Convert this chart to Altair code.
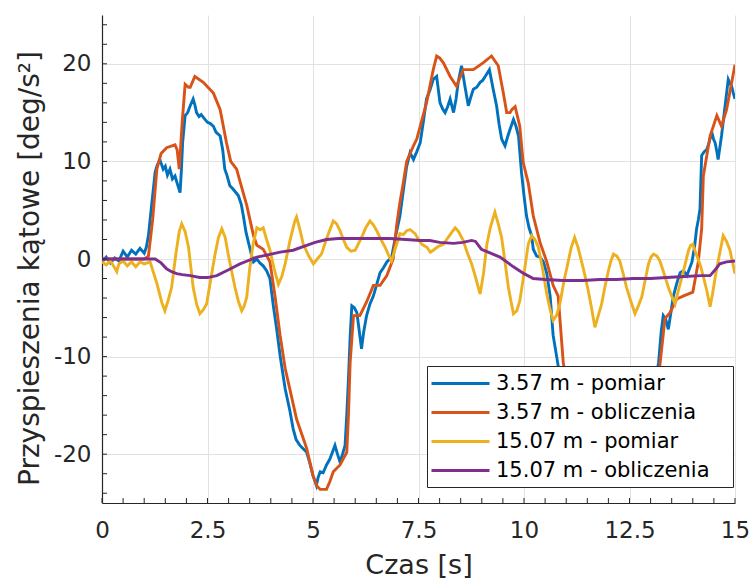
import altair as alt
import pandas as pd

names = ["3.57 m - pomiar", "3.57 m - obliczenia", "15.07 m - pomiar", "15.07 m - obliczenia"]
colors = ["#0072BD", "#D95319", "#EDB120", "#7E2F8E"]

x_tick_values = [0, 2.5, 5, 7.5, 10, 12.5, 15]
y_tick_values = [-20, -10, 0, 10, 20]
x_minor = [i * 0.5 for i in range(31)]
y_minor = [-24 + 2 * i for i in range(25)]

t_blue = [0, 0.1, 0.2, 0.3, 0.4, 0.5, 0.6, 0.7, 0.8, 0.9, 1.0, 1.05, 1.1, 1.2, 1.26, 1.3, 1.37, 1.45, 1.5, 1.55,
          1.61, 1.67, 1.73, 1.8, 1.85, 1.88, 1.91, 1.97, 2.03, 2.09, 2.16, 2.2, 2.24, 2.3, 2.35, 2.44, 2.5, 2.56,
          2.64, 2.7, 2.8, 2.86, 2.91, 2.96, 3.03, 3.1, 3.23, 3.3, 3.35, 3.41, 3.47, 3.55, 3.59, 3.67, 3.74, 3.82,
          3.9, 3.98, 4.06, 4.14, 4.22, 4.34, 4.45, 4.53, 4.6, 4.69, 4.78, 4.85, 4.93, 5.0, 5.08, 5.12, 5.17, 5.24,
          5.32, 5.4, 5.46, 5.52, 5.58, 5.64, 5.7, 5.76, 5.8, 5.84, 5.88, 5.92, 5.98, 6.04, 6.1, 6.15, 6.2, 6.27,
          6.35, 6.43, 6.51, 6.59, 6.67, 6.75, 6.82, 6.87, 6.95, 7.06, 7.14, 7.22, 7.3, 7.38, 7.46, 7.54, 7.62,
          7.69, 7.77, 7.85, 7.93, 8.01, 8.07, 8.13, 8.19, 8.25, 8.33, 8.39, 8.44, 8.52, 8.6, 8.68, 8.74, 8.8,
          8.88, 8.96, 9.02, 9.08, 9.18, 9.27, 9.35, 9.41, 9.47, 9.55, 9.61, 9.67, 9.75, 9.81, 9.87, 9.94, 10.0,
          10.06, 10.12, 10.18, 10.22, 10.3, 10.38, 10.46, 10.54, 10.62, 10.69, 10.77, 10.85, 11.0, 11.2, 11.5,
          11.8, 12.1, 12.4, 12.7, 12.9, 13.05, 13.19, 13.25, 13.3, 13.36, 13.42, 13.48, 13.54, 13.62, 13.7,
          13.78, 13.86, 13.92, 13.98, 14.04, 14.09, 14.13, 14.17, 14.21, 14.27, 14.33, 14.39, 14.45, 14.49,
          14.53, 14.57, 14.6, 14.64, 14.68, 14.76, 14.84, 14.88, 14.92, 14.96, 15.0]
v_blue = [-0.3, 0.2, -0.4, 0.1, -0.2, 0.8, 0.2, 0.9, 0.5, 1.1, 0.6, 1.2, 2.4, 6.5, 8.9, 9.5, 10.2, 9.2, 9.5, 8.6,
          9.2, 8.2, 8.5, 7.5, 6.8, 9.0, 11.9, 14.7, 15.0, 15.7, 16.4, 15.8, 15.0, 14.6, 14.8, 14.3, 14.0, 13.9,
          13.6, 13.0, 12.6, 11.2, 9.2, 8.6, 7.5, 7.2, 6.5, 5.6, 4.4, 2.8, 1.7, 0.3, -0.3, 0.0, -0.4, -0.7,
          -1.2, -2.0, -4.8, -7.2, -9.9, -13.3, -15.5, -17.4, -18.5, -19.1, -19.5, -19.8, -21.0, -22.2, -23.2, -22.4, -21.8, -21.9,
          -21.1, -20.5, -19.8, -19.1, -20.0, -20.8, -20.0, -19.1, -16.0, -12.3, -8.0, -4.8, -5.0, -5.5, -7.5, -9.2, -7.5, -5.8,
          -4.6, -3.8, -2.6, -1.4, -0.9, -0.3, 0.0, 0.3, 2.2, 4.4, 7.0, 9.5, 10.9, 10.2, 11.0, 11.9, 14.2,
          16.4, 17.3, 18.4, 18.7, 16.0, 15.4, 15.0, 15.6, 16.4, 15.0, 16.4, 18.1, 19.8, 17.7, 15.7, 16.6, 17.4,
          17.6, 18.1, 18.3, 18.7, 19.4, 17.4, 15.7, 13.8, 12.3, 11.6, 12.5, 13.3, 14.3, 13.6, 12.6, 8.9, 6.5,
          4.4, 3.2, 2.4, 1.0, 0.3, 0.2, -0.3, -1.5, -3.8, -7.8, -9.9, -12.0, -15.0, -18.0, -20.0,
          -21.0, -20.5, -21.0, -19.0, -17.0, -14.0, -10.6, -7.5, -5.8, -6.2, -7.2, -5.5, -3.8, -2.5, -1.4,
          -1.2, -1.7, -1.0, -0.3, 1.2, 3.1, 4.0, 5.1, 10.6, 11.0, 11.2, 12.0, 13.0, 12.3,
          11.9, 11.0, 10.2, 11.4, 12.6, 15.5, 18.4, 18.0, 17.7, 17.0, 16.4]

t_orange = [0, 0.5, 1.0, 1.1, 1.2, 1.3, 1.4, 1.53, 1.73, 1.78, 1.83, 1.9, 1.97, 2.05, 2.09, 2.2, 2.4, 2.64, 2.8,
            2.95, 3.05, 3.19, 3.3, 3.43, 3.59, 3.67, 3.82, 3.92, 3.98, 4.1, 4.22, 4.34, 4.45, 4.61, 4.85, 5.0,
            5.1, 5.17, 5.32, 5.4, 5.48, 5.64, 5.8, 5.84, 5.88, 5.96, 6.11, 6.27, 6.43, 6.59, 6.75, 6.9, 6.98,
            7.06, 7.14, 7.22, 7.3, 7.38, 7.46, 7.54, 7.69, 7.85, 7.93, 8.0, 8.09, 8.25, 8.4, 8.56, 8.8, 9.03,
            9.23, 9.39, 9.51, 9.59, 9.67, 9.71, 9.79, 9.9, 9.98, 10.1, 10.22, 10.38, 10.54, 10.69, 10.81,
            10.93, 11.05, 11.2, 11.4, 11.7, 12.0, 12.3, 12.6, 12.9, 13.1, 13.22, 13.34, 13.46, 13.62, 13.77,
            14.0, 14.13, 14.21, 14.25, 14.41, 14.57, 14.68, 14.8, 15.0]
v_orange = [0, 0, 0, 0.3, 4.0, 9.2, 10.8, 11.4, 11.7, 11.2, 9.2, 14.0, 17.9, 17.6, 17.6, 18.7, 18.1, 17.0, 15.3,
            11.9, 10.0, 9.2, 7.5, 5.5, 2.4, 1.4, 1.0, 0.2, -0.3, -3.8, -7.8, -11.2, -13.3, -16.4, -19.4, -22.2,
            -23.3, -23.6, -23.6, -22.8, -21.8, -21.1, -19.8, -16.0, -10.6, -5.8, -5.8, -4.4, -2.7, -2.7, -1.7, 0.0, 3.4,
            5.8, 7.8, 10.0, 10.8, 11.6, 12.3, 13.6, 16.0, 19.4, 20.8, 20.6, 20.1, 18.7, 17.7, 19.4, 19.4, 20.1,
            20.8, 19.8, 17.0, 15.0, 15.0, 15.3, 15.6, 13.6, 9.9, 7.8, 4.4, 1.7, -0.3, -2.7, -3.8,
            -10.6, -14.0, -17.0, -19.5, -21.0, -21.5, -21.0, -20.0, -18.0, -14.0, -10.9, -6.1, -5.5, -4.1, -3.8,
            -3.4, -0.3, 3.1, 8.5, 12.6, 14.7, 13.6, 15.3, 19.9]

t_yellow = [0, 0.1, 0.2, 0.3, 0.35, 0.4, 0.5, 0.6, 0.7, 0.8, 0.9, 1.0, 1.14, 1.3, 1.42, 1.49, 1.57, 1.65, 1.75,
            1.83, 1.89, 1.97, 2.05, 2.16, 2.24, 2.32, 2.4, 2.48, 2.58, 2.68, 2.76, 2.84, 2.92, 2.99, 3.07, 3.15,
            3.23, 3.31, 3.37, 3.43, 3.5, 3.58, 3.67, 3.75, 3.82, 3.9, 3.98, 4.08, 4.18, 4.26, 4.34, 4.45, 4.57,
            4.61, 4.69, 4.77, 4.9, 5.01, 5.1, 5.2, 5.34, 5.48, 5.56, 5.64, 5.72, 5.8, 5.9, 6.0, 6.08, 6.15, 6.25,
            6.35, 6.43, 6.51, 6.61, 6.71, 6.78, 6.86, 6.96, 7.06, 7.14, 7.22, 7.3, 7.42, 7.5, 7.58, 7.7, 7.78,
            7.85, 7.97, 8.09, 8.2, 8.3, 8.37, 8.45, 8.56, 8.66, 8.76, 8.86, 8.96, 9.04, 9.12, 9.2, 9.31, 9.39,
            9.47, 9.55, 9.63, 9.69, 9.75, 9.83, 9.9, 10.0, 10.1, 10.18, 10.26, 10.34, 10.44, 10.54, 10.62, 10.69,
            10.77, 10.85, 10.95, 11.05, 11.12, 11.2, 11.28, 11.36, 11.44, 11.52, 11.6, 11.68, 11.76, 11.84,
            11.92, 12.0, 12.06, 12.12, 12.2, 12.27, 12.35, 12.43, 12.53, 12.63, 12.71, 12.79, 12.87, 12.95,
            13.01, 13.07, 13.15, 13.22, 13.32, 13.42, 13.5, 13.58, 13.66, 13.74, 13.82, 13.9, 13.95, 14.0,
            14.08, 14.17, 14.25, 14.33, 14.41, 14.47, 14.53, 14.62, 14.68, 14.72, 14.8, 14.88, 14.95, 15.0]
v_yellow = [-0.3, -0.6, -0.2, -0.9, -1.3, -0.5, -0.2, -0.7, -0.3, -0.8, -0.3, -0.5, -0.3, -2.5, -4.5, -5.3, -4.2,
            -2.9, 0.5, 2.8, 3.6, 2.8, 1.2, -2.9, -4.6, -5.6, -5.2, -4.6, -2.0, 0.5, 2.2, 3.1, 2.2, 0.5, -1.2, -2.9,
            -4.3, -5.3, -4.8, -3.9, -1.0, 1.5, 3.2, 3.0, 3.2, 2.0, 0.9, -1.0, -2.6, -1.8, -0.5, 1.8, 3.9,
            4.3, 3.0, 1.5, 0.3, -0.5, 0.0, 0.5, 2.3, 3.9, 3.6, 2.9, 2.0, 1.2, 0.8, 0.9, 1.6, 2.2, 3.2,
            3.9, 3.5, 2.9, 2.0, 1.2, 0.5, -0.2, 1.2, 2.6, 2.5, 2.9, 3.0, 2.6, 2.0, 1.5, 1.2, 0.7,
            0.9, 1.3, 1.5, 2.2, 2.8, 3.2, 2.8, 1.9, 0.6, -0.5, -2.0, -3.6, -1.5, 1.5, 3.2, 4.8, 3.6,
            2.2, -0.3, -2.9, -4.3, -5.6, -5.3, -4.3, -1.5, 1.5, 2.4, 2.0, 1.2, -1.0, -3.6, -5.2, -6.3,
            -5.8, -4.6, -2.2, -0.2, 1.2, 2.2, 1.2, -0.2, -1.6, -3.2, -5.0, -7.0, -5.8, -4.6,
            -2.8, -1.2, -0.2, 0.5, 0.3, -0.2, -1.5, -2.9, -4.3, -5.6, -4.8, -3.9, -2.2, -0.5,
            0.2, 0.5, 0.3, -0.2, -1.5, -2.9, -3.8, -4.6, -3.2, -1.9, -0.5, 0.9, 1.4, 1.5,
            0.5, -0.5, -1.8, -3.2, -4.9, -3.5, -1.9, 0.2, 1.5, 2.4, 1.8, 0.9, -0.5, -1.5]

t_purple = [0, 0.5, 1.0, 1.26, 1.4, 1.53, 1.65, 1.77, 1.9, 2.09, 2.32, 2.5, 2.72, 3.0, 3.27, 3.5, 3.67, 3.9, 4.22,
            4.53, 4.85, 5.05, 5.32, 5.6, 6.04, 6.5, 6.82, 7.2, 7.54, 7.77, 8.0, 8.33, 8.55, 8.76, 8.85, 8.99,
            9.15, 9.43, 9.75, 10.0, 10.22, 10.5, 10.93, 11.4, 11.8, 12.2, 12.59, 13.0, 13.38, 13.8, 14.2, 14.41,
            14.55, 14.64, 14.8, 15.0]
v_purple = [0, 0, 0, 0, -0.4, -1.0, -1.3, -1.5, -1.6, -1.7, -1.9, -1.9, -1.7, -1.1, -0.5, -0.1, 0.2, 0.4, 0.7,
            0.9, 1.4, 1.7, 2.0, 2.1, 2.1, 2.1, 2.1, 2.0, 1.9, 1.9, 1.7, 1.6, 1.7, 1.9, 1.8, 1.0,
            0.7, 0.2, -0.8, -1.5, -2.0, -2.1, -2.2, -2.2, -2.1, -2.1, -2.0, -2.0, -1.9, -1.8, -1.7, -1.7,
            -1.0, -0.5, -0.3, -0.2]

series_t = [t_blue, t_orange, t_yellow, t_purple]
series_v = [v_blue, v_orange, v_yellow, v_purple]

rows = []
for name, ts, vs in zip(names, series_t, series_v):
    for t, v in zip(ts, vs):
        rows.append({"series": name, "t": t, "v": v})
df = pd.DataFrame(rows)

W, H = 633, 488
FONT = "DejaVu Sans"
INK = "#262626"

x_scale = alt.Scale(domain=[0, 15], nice=False, zero=False)
y_scale = alt.Scale(domain=[-25, 25], nice=False, zero=False)

x_axis = alt.Axis(values=x_tick_values, labelExpr="datum.value + ''", title="Czas [s]",
                  labelPadding=16, titleY=70, titleBaseline="alphabetic", grid=True, ticks=False,
                  labelFont=FONT, labelFontSize=23, labelColor=INK,
                  titleFont=FONT, titleFontSize=27, titleFontWeight="normal", titleColor=INK,
                  domainColor=INK, domainWidth=1.2, gridColor="#e2e2e2", gridWidth=1, labelFlush=False)
y_axis = alt.Axis(values=y_tick_values, labelExpr="datum.value + ''", title="Przyspieszenia kątowe [deg/s²]",
                  labelPadding=11, titleX=-64, titleY=253, titleBaseline="alphabetic", grid=True, ticks=False,
                  labelFont=FONT, labelFontSize=23, labelColor=INK,
                  titleFont=FONT, titleFontSize=28, titleFontWeight="normal", titleColor=INK,
                  domainColor=INK, domainWidth=1.2, gridColor="#e2e2e2", gridWidth=1, labelFlush=False)

X = alt.X("t:Q", scale=x_scale, axis=x_axis)
Y = alt.Y("v:Q", scale=y_scale, axis=y_axis)

color = alt.Color(
    "series:N",
    scale=alt.Scale(domain=names, range=colors),
    legend=alt.Legend(
        title=None, orient="none", legendX=325, legendY=351,
        symbolType="stroke", symbolSize=3364, symbolStrokeWidth=3,
        labelFont=FONT, labelFontSize=21, labelColor="black", labelOffset=5, labelLimit=0,
        padding=3, clipHeight=29, rowPadding=0,
        strokeColor="transparent", fillColor="transparent", cornerRadius=0,
    ),
)

layers = []
for n in names:
    layers.append(
        alt.Chart(df)
        .transform_filter(alt.datum.series == n)
        .mark_line(strokeWidth=2.9, clip=True)
        .encode(x=X, y=Y, color=color)
    )

xt = alt.Chart(pd.DataFrame({"t": x_minor})).mark_rule(color=INK, strokeWidth=1).encode(
    x=X, y=alt.value(H), y2=alt.value(H - 5)
)
yt = alt.Chart(pd.DataFrame({"v": y_minor})).mark_rule(color=INK, strokeWidth=1).encode(
    y=Y, x=alt.value(0), x2=alt.value(5)
)
# legend box background (drawn over the lines, under the legend entries)
legend_box = alt.Chart(pd.DataFrame({"k": [0]})).mark_rect(
    fill="white", stroke=INK, strokeWidth=1
).encode(x=alt.value(325.5), x2=alt.value(631.5), y=alt.value(351.5), y2=alt.value(472.5))

chart = (
    alt.layer(*layers, xt, yt, legend_box)
    .properties(width=W, height=H, autosize=alt.AutoSizeParams(type="none"),
                padding={"left": 102, "top": 15, "right": 19, "bottom": 78},
                background="white")
    .configure_view(stroke=None)
)

chart.save("out.html", embed_options={"renderer": "svg", "actions": False})
